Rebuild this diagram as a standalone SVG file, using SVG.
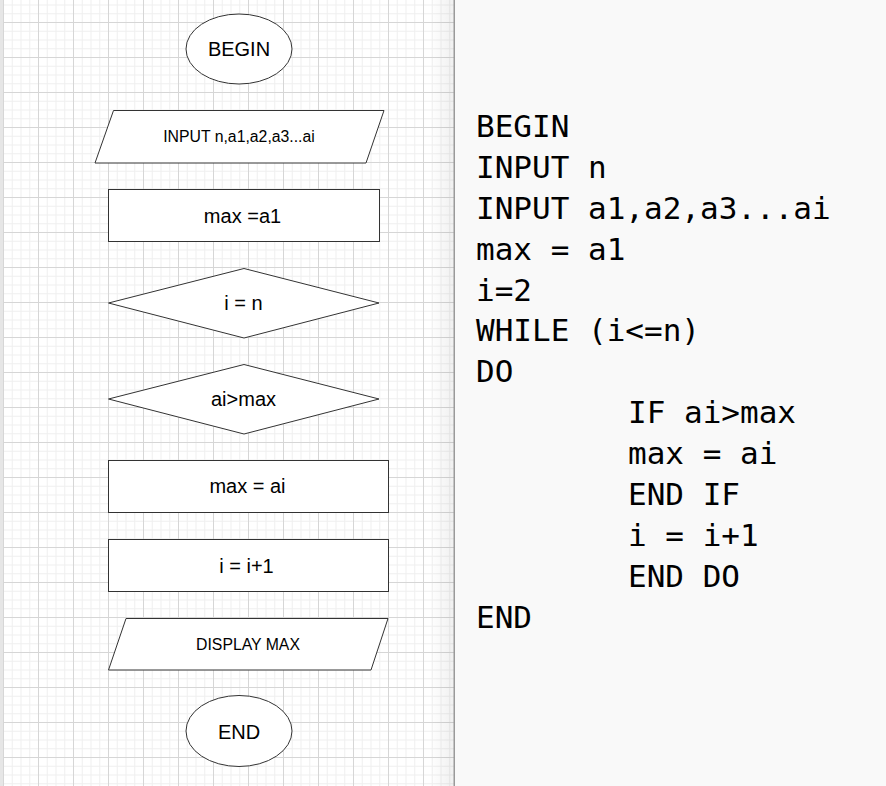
<svg xmlns="http://www.w3.org/2000/svg" width="886" height="786" viewBox="0 0 886 786">
  <defs>
    <pattern id="grid" patternUnits="userSpaceOnUse" x="3" y="22" width="35" height="35">
      <path d="M9.25 0V35M18 0V35M26.75 0V35M0 9.25H35M0 18H35M0 26.75H35" stroke="#efefef" stroke-width="1" fill="none"/>
      <path d="M0.5 0V35M0 0.5H35" stroke="#d6d6d6" stroke-width="1" fill="none"/>
    </pattern>
    <linearGradient id="shade" x1="0" y1="0" x2="1" y2="0">
      <stop offset="0" stop-color="#000" stop-opacity="0"/>
      <stop offset="1" stop-color="#000" stop-opacity="0.06"/>
    </linearGradient>
  </defs>
  <style>
    .shape { fill: #ffffff; stroke: #333333; stroke-width: 1; }
    .lbl { font-family: "Liberation Sans", Arial, sans-serif; font-size: 20px; fill: #000; text-anchor: middle; }
    .sm { font-size: 15.8px; }
    .code { font-family: "DejaVu Sans Mono", "Liberation Mono", monospace; font-size: 31px; fill: #000; }
  </style>
  <!-- left canvas -->
  <rect x="0" y="0" width="455" height="786" fill="#ffffff"/>
  <rect x="0" y="0" width="455" height="786" fill="url(#grid)"/>
  <rect x="0" y="0" width="3" height="786" fill="#e6e6e6"/>
  <rect x="430" y="0" width="24" height="786" fill="url(#shade)"/>
  <!-- right panel -->
  <rect x="455" y="0" width="431" height="786" fill="#f9f9f9"/>
  <rect x="453.5" y="0" width="1.5" height="786" fill="#9a9a9a"/>

  <g id="connectors"/>

  <g id="begin">
    <ellipse class="shape" cx="239" cy="49" rx="53" ry="35"/>
    <text class="lbl" x="239" y="56">BEGIN</text>
  </g>
  <g id="input">
    <polygon class="shape" points="113.5,110.5 384,110.5 366,163 95,163"/>
    <text class="lbl sm" x="239" y="142">INPUT n,a1,a2,a3...ai</text>
  </g>
  <g id="init-max">
    <rect class="shape" x="108.5" y="189.5" width="271" height="52"/>
    <text class="lbl" x="242.5" y="222.5">max =a1</text>
  </g>
  <g id="cond-i">
    <polygon class="shape" points="108.5,303 244,268.5 379,303 244,338"/>
    <text class="lbl" x="243.5" y="310">i = n</text>
  </g>
  <g id="cond-ai">
    <polygon class="shape" points="108.5,399 244,364.5 379,399 244,434"/>
    <text class="lbl" x="243.5" y="406">ai&gt;max</text>
  </g>
  <g id="set-max">
    <rect class="shape" x="108.5" y="460.5" width="280" height="52"/>
    <text class="lbl" x="247.5" y="492.5">max = ai</text>
  </g>
  <g id="incr">
    <rect class="shape" x="108.5" y="539.5" width="280" height="52"/>
    <text class="lbl" x="246.5" y="572.5">i = i+1</text>
  </g>
  <g id="display">
    <polygon class="shape" points="126,618.5 388,618.5 371,670 108.5,670"/>
    <text class="lbl sm" x="248" y="650">DISPLAY MAX</text>
  </g>
  <g id="end">
    <ellipse class="shape" cx="239" cy="731" rx="53" ry="35.5"/>
    <text class="lbl" x="239" y="738.5">END</text>
  </g>

  <g id="pseudocode">
    <text class="code" x="476" y="137">BEGIN</text>
    <text class="code" x="476" y="178">INPUT n</text>
    <text class="code" x="476" y="218.5">INPUT a1,a2,a3...ai</text>
    <text class="code" x="476" y="259.5">max = a1</text>
    <text class="code" x="476" y="300.5">i=2</text>
    <text class="code" x="476" y="341">WHILE (i&lt;=n)</text>
    <text class="code" x="476" y="382">DO</text>
    <text class="code" x="628" y="423">IF ai&gt;max</text>
    <text class="code" x="628" y="464">max = ai</text>
    <text class="code" x="628" y="505">END IF</text>
    <text class="code" x="628" y="546">i = i+1</text>
    <text class="code" x="628" y="587">END DO</text>
    <text class="code" x="476" y="628">END</text>
  </g>
</svg>
